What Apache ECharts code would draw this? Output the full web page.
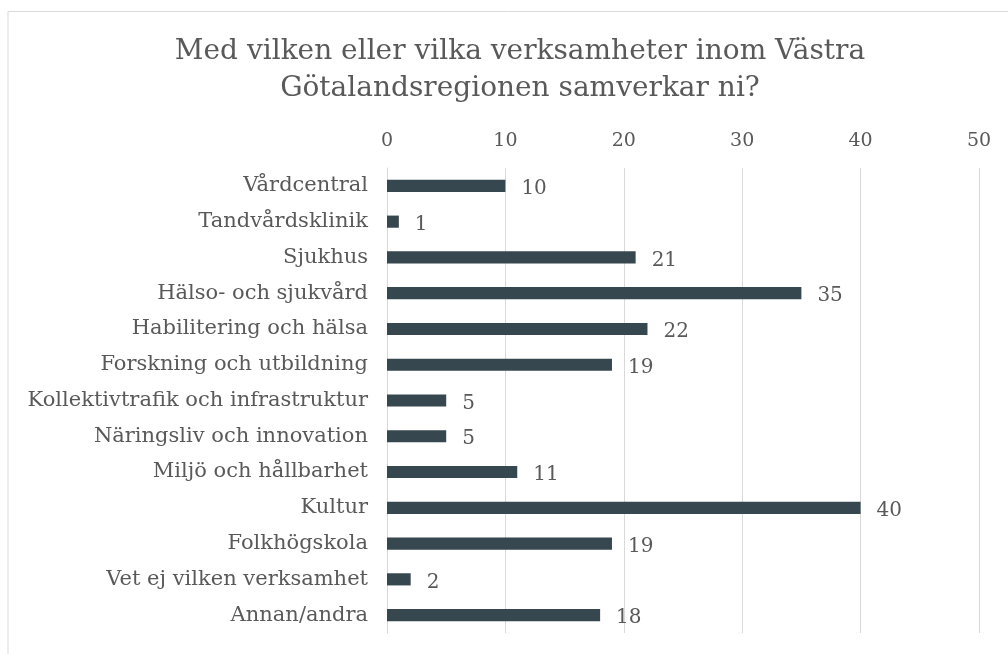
<!DOCTYPE html>
<html>
<head>
<meta charset="utf-8">
<script src="https://cdn.jsdelivr.net/npm/echarts@6/dist/echarts.min.js"></script>
<style>
  html, body { margin: 0; padding: 0; background: #fff; }
  #chart { width: 1008px; height: 654px; }
</style>
</head>
<body>
<div id="chart"></div>
<script>
// kategorier och antal svar
var categories = [
  'Vårdcentral',
  'Tandvårdsklinik',
  'Sjukhus',
  'Hälso- och sjukvård',
  'Habilitering och hälsa',
  'Forskning och utbildning',
  'Kollektivtrafik och infrastruktur',
  'Näringsliv och innovation',
  'Miljö och hållbarhet',
  'Kultur',
  'Folkhögskola',
  'Vet ej vilken verksamhet',
  'Annan/andra'
];
var counts = [10, 1, 21, 35, 22, 19, 5, 5, 11, 40, 19, 2, 18];
var tickMin = 0, tickMax = 50, tickStep = 10;

var font = '"DejaVu Serif", "Liberation Serif", serif';
var textColor = '#595959';

var myChart = echarts.init(document.getElementById('chart'));
var option = {
  animation: false,
  title: {
    text: 'Med vilken eller vilka verksamheter inom Västra\nGötalandsregionen samverkar ni?',
    left: 515,
    top: 28,
    textAlign: 'center',
    textStyle: {
      fontFamily: font,
      fontSize: 28,
      fontWeight: 'normal',
      color: textColor,
      lineHeight: 37
    }
  },
  graphic: [{
    type: 'rect',
    shape: { x: 8, y: 11.5, width: 1200, height: 800 },
    style: { fill: 'none', stroke: '#d9d9d9', lineWidth: 1 },
    silent: true
  }],
  grid: {
    left: 387,
    right: 29,
    top: 168,
    bottom: 21,
    containLabel: false
  },
  xAxis: {
    type: 'value',
    position: 'top',
    min: tickMin,
    max: tickMax,
    interval: tickStep,
    axisLine: { show: false },
    axisTick: { show: false },
    axisLabel: {
      margin: 17,
      fontFamily: font,
      fontSize: 19,
      color: textColor
    },
    splitLine: { show: true, lineStyle: { color: '#d9d9d9', width: 1 } }
  },
  yAxis: {
    type: 'category',
    inverse: true,
    data: categories,
    axisLine: { show: true, lineStyle: { color: '#d9d9d9' } },
    axisTick: { show: false },
    axisLabel: {
      margin: 19,
      fontFamily: font,
      fontSize: 21,
      color: textColor
    }
  },
  series: [{
    type: 'bar',
    data: counts,
    barCategoryGap: '66%',
    itemStyle: { color: '#37474f' },
    label: {
      show: true,
      position: 'right',
      distance: 16,
      offset: [0, 3],
      fontFamily: font,
      fontSize: 20,
      color: textColor
    }
  }]
};
myChart.setOption(option);
</script>
</body>
</html>
